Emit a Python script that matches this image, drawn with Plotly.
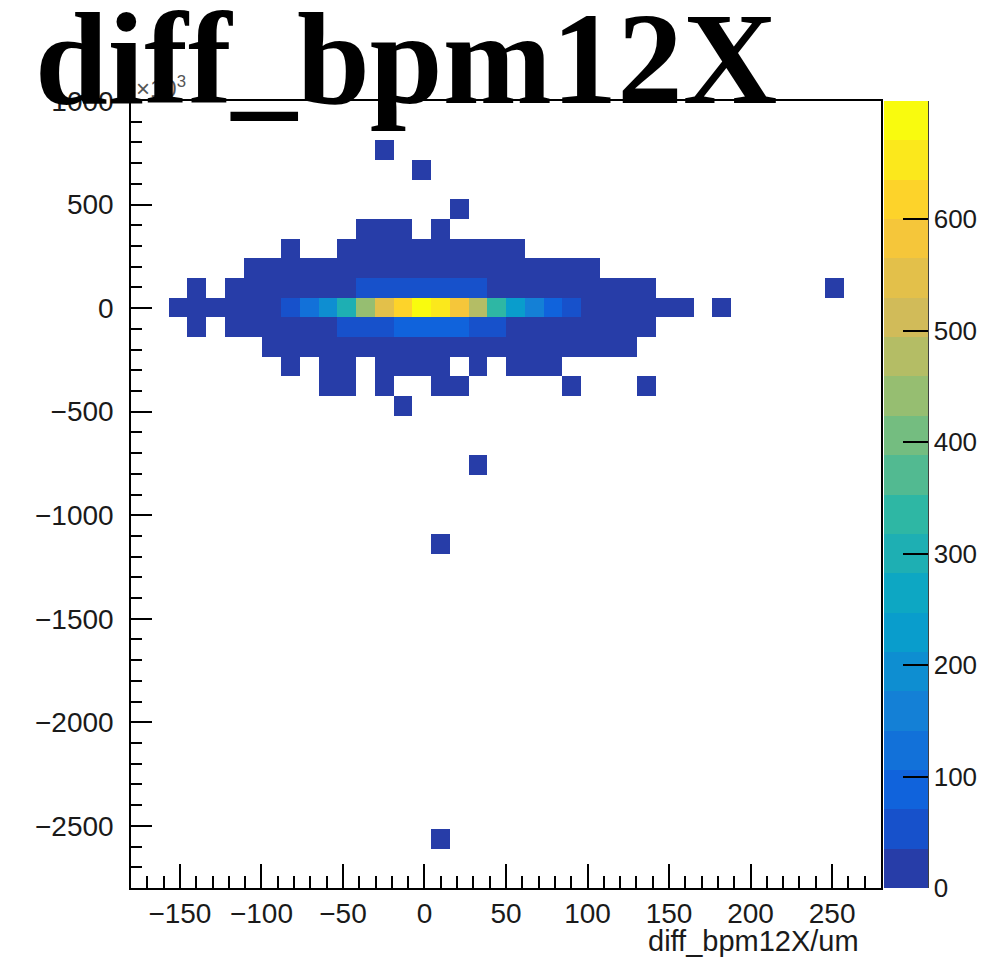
import numpy as np
import plotly.graph_objects as go

# ---------------- data ----------------
title_text = "diff_bpm12X"
x_title = "diff_bpm12X/um"

# histogram binning (TH2 with 40 x 40 bins)
x_lo, x_hi, n_xbins = -180.0, 280.0, 40
y_lo, y_hi, n_ybins = -2800.0, 1000.0, 40

# occupied rows: y-bin index, first x-bin index, bin contents (0 = empty)
row_ybin = [37, 36, 34, 33, 32, 31, 30, 29, 28, 27, 26, 25, 24, 21, 17, 2]
row_xstart = [13, 15, 17, 12, 8, 6, 3, 2, 3, 7, 8, 10, 14, 18, 16, 16]
row_counts = [
    [1],
    [1],
    [1],
    [1, 2, 1, 0, 1],
    [1, 0, 0, 1, 2, 3, 4, 5, 4, 3, 2, 2, 1],
    [1, 1, 2, 3, 5, 8, 12, 15, 18, 20, 18, 15, 12, 9, 6, 4, 3, 2, 1],
    [1, 0, 1, 2, 3, 6, 10, 16, 25, 40, 50, 58, 62, 60, 52, 42, 28, 20, 14, 9, 6, 4, 2, 1, 1,
     0, 0, 0, 0, 0, 0, 0, 0, 0, 1],
    [1, 2, 4, 8, 14, 22, 55, 118, 195, 310, 440, 545, 615, 706, 655, 580, 475, 335, 230, 160,
     90, 55, 28, 16, 9, 5, 2, 1, 0, 1],
    [1, 0, 1, 2, 4, 7, 12, 20, 45, 55, 62, 80, 88, 85, 75, 60, 42, 28, 18, 11, 6, 4, 2, 1, 1],
    [1, 2, 3, 5, 8, 11, 14, 16, 17, 16, 14, 11, 8, 6, 4, 3, 2, 1, 1, 1],
    [1, 0, 1, 2, 0, 2, 3, 2, 2, 0, 1, 0, 1, 1, 1],
    [1, 1, 0, 1, 0, 0, 1, 1, 0, 0, 0, 0, 0, 1, 0, 0, 0, 1],
    [1],
    [1],
    [1],
    [1],
]

x_tick_vals = [-150, -100, -50, 0, 50, 100, 150, 200, 250]
y_tick_vals = [-2500, -2000, -1500, -1000, -500, 0, 500, 1000]
z_tick_vals = [0, 100, 200, 300, 400, 500, 600]

# ---------------- build histogram ----------------
dx = (x_hi - x_lo) / n_xbins
dy = (y_hi - y_lo) / n_ybins
x_centers = x_lo + dx * (np.arange(n_xbins) + 0.5)
y_centers = y_lo + dy * (np.arange(n_ybins) + 0.5)
Z = np.full((n_ybins, n_xbins), np.nan)
for j, i0, vals in zip(row_ybin, row_xstart, row_counts):
    for k, v in enumerate(vals):
        if v > 0:
            Z[j, i0 + k] = v
zmax = float(np.nanmax(Z))

# ROOT kBird palette, 20 contour levels
stops = [0.0, 0.125, 0.25, 0.375, 0.5, 0.625, 0.75, 0.875, 1.0]
red = [0.2082, 0.0592, 0.0780, 0.0232, 0.1802, 0.5301, 0.8186, 0.9956, 0.9764]
green = [0.1664, 0.3599, 0.5041, 0.6419, 0.7178, 0.7492, 0.7328, 0.7862, 0.9832]
blue = [0.5293, 0.8684, 0.8385, 0.7914, 0.6425, 0.4662, 0.3499, 0.1968, 0.0539]
n_levels = 20
colorscale = []
for k in range(n_levels):
    f = int((k + 0.99) * 255 / n_levels) / 254.0
    r = int(round(255 * np.interp(f, stops, red)))
    g = int(round(255 * np.interp(f, stops, green)))
    b = int(round(255 * np.interp(f, stops, blue)))
    c = f"rgb({r},{g},{b})"
    colorscale.append([k / n_levels, c])
    colorscale.append([(k + 1) / n_levels, c])

# ---------------- geometry (pixels) ----------------
W, H = 993, 970
L, R, T, B = 131, 881, 101, 888
pw, ph = R - L, B - T


def px_x(p):
    return (p - L) / pw


def px_y(p):
    return (B - p) / ph


tick_font = dict(family="Liberation Sans, Arial, sans-serif", size=28, color="#1a1a1a")

fig = go.Figure()
fig.add_trace(go.Heatmap(
    x=x_centers, y=y_centers, z=Z,
    zmin=0, zmax=zmax,
    colorscale=colorscale,
    hoverongaps=False,
    colorbar=dict(
        x=px_x(884), xanchor="left", xpad=0,
        y=0.5, yanchor="middle", len=1, lenmode="fraction", ypad=0,
        thickness=44, outlinewidth=0,
        tickmode="array", tickvals=z_tick_vals,
        ticks="inside", ticklen=25, tickwidth=1.5, tickcolor="black",
        tickfont=dict(family="Liberation Sans, Arial, sans-serif", size=26, color="#1a1a1a"),
    ),
))

axis_common = dict(
    showgrid=False, zeroline=False,
    showline=True, linecolor="black", linewidth=1.5, mirror=True,
    ticks="inside", tickcolor="black", tickwidth=1.5,
    tickfont=tick_font, automargin=False,
)
fig.update_xaxes(
    range=[x_lo, x_hi], tickmode="array", tickvals=x_tick_vals, ticklen=24,
    minor=dict(dtick=10, tick0=0, ticks="inside", ticklen=12, tickcolor="black", tickwidth=1.5),
    ticklabelstandoff=0,
    **axis_common,
)
fig.update_yaxes(
    range=[y_lo, y_hi], tickmode="array", tickvals=y_tick_vals, ticklen=21,
    minor=dict(dtick=100, tick0=0, ticks="inside", ticklen=11, tickcolor="black", tickwidth=1.5),
    ticklabelstandoff=10,
    **axis_common,
)

annotations = [
    dict(text="×10<sup>3</sup>", xref="paper", yref="paper", x=px_x(134), y=px_y(104),
         xanchor="left", yanchor="bottom", showarrow=False,
         font=dict(family="Liberation Sans, Arial, sans-serif", size=24, color="#555555")),
    dict(text=x_title, xref="paper", yref="paper", x=px_x(861), y=px_y(923),
         xanchor="right", yanchor="top", showarrow=False,
         font=dict(family="Liberation Sans, Arial, sans-serif", size=29, color="#1a1a1a")),
    dict(text="<b>" + title_text + "</b>", xref="paper", yref="paper", x=px_x(33), y=px_y(133),
         xanchor="left", yanchor="bottom", showarrow=False,
         font=dict(family="Liberation Serif, Times New Roman, serif", size=131, color="black")),
]

shapes = [
    dict(type="line", xref="paper", yref="paper", x0=px_x(928), x1=px_x(928), y0=0, y1=1,
         line=dict(color="black", width=1.5)),
]

fig.update_layout(
    width=W, height=H,
    margin=dict(l=L, r=W - R, t=T, b=H - B, pad=0, autoexpand=False),
    paper_bgcolor="white", plot_bgcolor="white",
    annotations=annotations, shapes=shapes,
    showlegend=False,
)

fig.write_html(
    "out.html",
    config={"displayModeBar": False},
    post_script="document.body.style.margin='0';document.body.style.overflow='hidden';",
)
